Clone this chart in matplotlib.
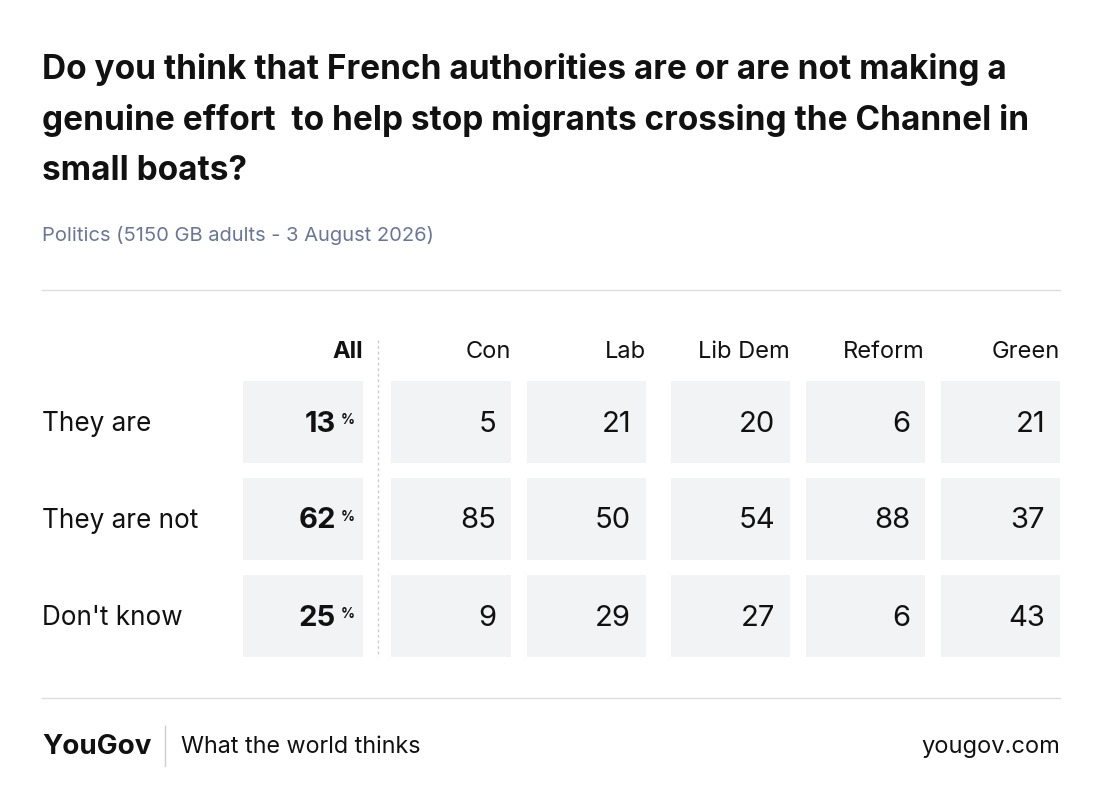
import matplotlib
matplotlib.use("Agg")
import matplotlib.pyplot as plt
from matplotlib.patches import Rectangle

plt.rcParams['font.family'] = ['Inter', 'DejaVu Sans']

title = ["Do you think that French authorities are or are not making a",
         "genuine effort  to help stop migrants crossing the Channel in",
         "small boats?"]
subtitle = "Politics (5150 GB adults - 3 August 2026)"
rows = ["They are", "They are not", "Don't know"]
cols = ["Con", "Lab", "Lib Dem", "Reform", "Green"]
all_vals = [13, 62, 25]
vals = [[5, 21, 20, 6, 21],
        [85, 50, 54, 88, 37],
        [9, 29, 27, 6, 43]]

fig = plt.figure(figsize=(11.02, 8.09), dpi=100)
ax = fig.add_axes([0, 0, 1, 1])
ax.set_xlim(0, 1102); ax.set_ylim(809, 0); ax.axis('off')

dark = "#111111"
for i, t in enumerate(title):
    ax.text(42, 69 + i * 51, t, fontsize=24, fontweight='bold', color=dark, va='center')
ax.text(42, 235, subtitle, fontsize=14.5, color="#6a7696", va='center')
ax.plot([42, 1060], [290, 290], color="#dddddd", lw=1)
ax.plot([42, 1060], [698, 698], color="#dddddd", lw=1)

cell_c = "#f2f3f5"
all_l, all_r = 243, 363
col_l = [391, 527, 671, 806, 941]
col_r = [511, 646, 790, 925, 1060]
row_t = [381, 478, 575]
row_h = 82

ax.text(all_r, 352, "All", fontsize=17, fontweight='bold', color=dark, ha='right', va='center')
for c, r in zip(cols, col_r):
    ax.text(r, 352, c, fontsize=17, color=dark, ha='right', va='center')
ax.plot([378, 378], [340, 657], color="#cccccc", lw=1, ls=(0, (2, 2)))

for i, rl in enumerate(rows):
    yt = row_t[i]; yc = yt + row_h / 2 + 2
    ax.text(42, yc, rl, fontsize=18.8, color=dark, va='center')
    ax.add_patch(Rectangle((all_l, yt), all_r - all_l, row_h, color=cell_c, lw=0))
    ax.text(336, yc, str(all_vals[i]), fontsize=21, fontweight='bold', color=dark, ha='right', va='center')
    ax.text(341, yc - 4, "%", fontsize=10, fontweight='bold', color=dark, ha='left', va='center')
    for j in range(len(cols)):
        ax.add_patch(Rectangle((col_l[j], yt), col_r[j] - col_l[j], row_h, color=cell_c, lw=0))
        ax.text(col_r[j] - 15, yc, str(vals[i][j]), fontsize=21, color=dark, ha='right', va='center')

ax.text(42, 747, "YouGov", fontsize=20, fontweight='bold', color=dark, va='center')
ax.plot([165, 165], [726, 766], color="#cccccc", lw=1)
ax.text(181, 747, "What the world thinks", fontsize=16.8, color=dark, va='center')
ax.text(1060, 747, "yougov.com", fontsize=17, color=dark, ha='right', va='center')

fig.savefig("out.png", dpi=100, facecolor='white')
